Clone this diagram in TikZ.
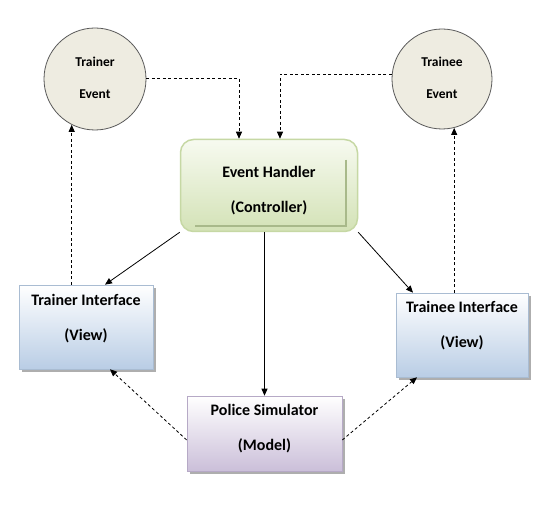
\documentclass[tikz,border=0pt]{standalone}
\usepackage{fontspec}
\setmainfont{Carlito}
\usetikzlibrary{arrows.meta,shadows,calc}
\definecolor{circfill}{HTML}{EEECE1}
\definecolor{circdraw}{HTML}{5A5A5A}
\definecolor{hTop}{HTML}{F7FAF0}
\definecolor{hBot}{HTML}{D3E2B6}
\definecolor{hDraw}{HTML}{C6D8A4}
\definecolor{hLine}{HTML}{A8B98A}
\definecolor{vBot}{HTML}{B9CDE5}
\definecolor{vDraw}{HTML}{A9BCD2}
\definecolor{mBot}{HTML}{CBBFD9}
\definecolor{mDraw}{HTML}{B6A9C6}
\tikzset{
  evcirc/.style={circle, draw=circdraw, line width=0.8pt, fill=circfill, inner sep=0pt},
  ctext/.style={font=\bfseries\fontsize{13.5}{32}\selectfont, align=center, inner sep=0pt},
  btext/.style={font=\bfseries\fontsize{16}{35}\selectfont, align=center, inner sep=0pt},
  boxshadow/.style={drop shadow={shadow xshift=3pt, shadow yshift=-3pt, fill=black!45, opacity=0.7}},
  viewbox/.style={rectangle, draw=vDraw, line width=0.6pt, top color=white, bottom color=vBot, boxshadow, inner sep=0pt},
  modelbox/.style={rectangle, draw=mDraw, line width=0.6pt, top color=white, bottom color=mBot, boxshadow, inner sep=0pt},
  ctrlbox/.style={rectangle, rounded corners=13pt, draw=hDraw, line width=1.5pt, top color=hTop, bottom color=hBot, inner sep=0pt},
  solidarrow/.style={draw=black, line width=0.8pt, -{Triangle[length=7pt,width=6pt]}},
  dasharrow/.style={draw=black, line width=0.8pt, dash pattern=on 3pt off 2.5pt, -{Triangle[length=7pt,width=6pt]}}
}
\begin{document}
\begin{tikzpicture}[x=1pt,y=-1pt]
\useasboundingbox[fill=white] (0,0) rectangle (560,505);
% circles
\node[evcirc, minimum size=102pt] (te) at (95,79) {};
\node[ctext] (tetext) at (95,77.5) {Trainer\\Event};
\node[evcirc, minimum size=100pt] (tee) at (442,79) {};
\node[ctext] (teetext) at (442,78) {Trainee\\Event};
% controller
\node[ctrlbox, minimum width=177pt, minimum height=92pt] (h) at (269,185.5) {};
\draw[hLine, line width=1.8pt] ([xshift=-12pt,yshift=-21pt]h.north east) -- ([xshift=-12pt,yshift=6pt]h.south east) -- ([xshift=15pt,yshift=6pt]h.south west);
\node[btext] (htext) at (269,190.5) {Event Handler\\(Controller)};
% views
\node[viewbox, minimum width=134pt, minimum height=84pt] (ti) at (86,327) {};
\node[btext] (titext) at (86,318.5) {Trainer Interface\\(View)};
\node[viewbox, minimum width=132pt, minimum height=84pt] (tri) at (462,335) {};
\node[btext] (tritext) at (462,325.5) {Trainee Interface\\(View)};
% model
\node[modelbox, minimum width=155pt, minimum height=75pt] (p) at (264.5,433.5) {};
\node[btext] (ptext) at (264.5,428.5) {Police Simulator\\(Model)};
% connectors
\draw[dasharrow] ([yshift=1pt]te.east) -| ([xshift=-30pt]h.north);
\draw[dasharrow] ([yshift=5pt]tee.west) -| ([xshift=11pt]h.north);
\draw[solidarrow] (h.south west) -- ([xshift=19pt]ti.north);
\draw[solidarrow] (h.south -| p.north) -- (p.north);
\draw[solidarrow] (h.south east) -- ([xshift=-49pt]tri.north);
\draw[dasharrow] (ti.north -| te.243) -- (te.243);
\draw[dasharrow] (tri.north -| tee.284) -- (tee.284);
\draw[dasharrow] ([yshift=-6.5pt]p.west) -- ([xshift=24pt]ti.south);
\draw[dasharrow] ([yshift=-6.5pt]p.east) -- ([xshift=-45pt]tri.south);
\end{tikzpicture}
\end{document}
